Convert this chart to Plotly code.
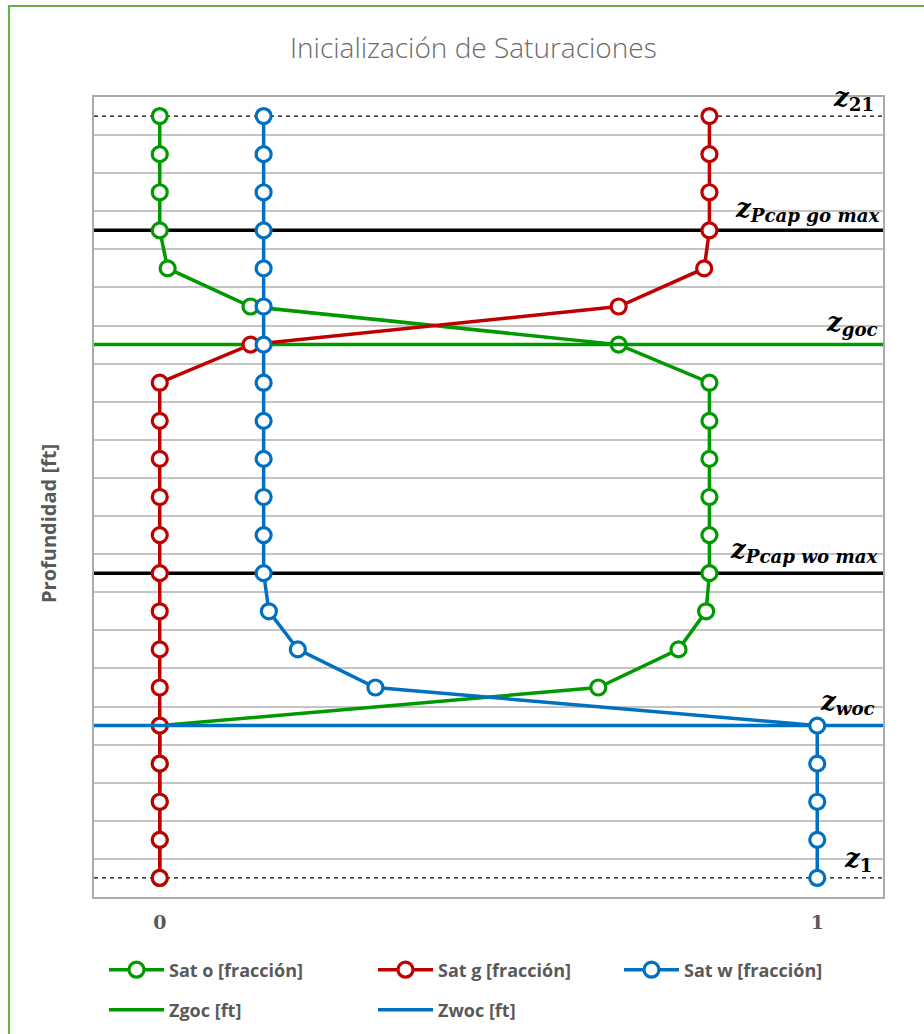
import plotly.graph_objects as go

# Depth levels (cell index, z1 at the bottom, z21 at the top)
z_levels = list(range(21, 0, -1))

# Saturations at each level, listed from z21 down to z1
sat_o = [0, 0, 0, 0, 0.012, 0.138, 0.698, 0.836, 0.836, 0.836, 0.836, 0.836, 0.836,
         0.831, 0.789, 0.667, 0, 0, 0, 0, 0]
sat_g = [0.836, 0.836, 0.836, 0.836, 0.828, 0.698, 0.138, 0, 0, 0, 0, 0, 0,
         0, 0, 0, 0, 0, 0, 0, 0]
sat_w = [0.158, 0.158, 0.158, 0.158, 0.158, 0.158, 0.158, 0.158, 0.158, 0.158, 0.158,
         0.158, 0.158, 0.166, 0.210, 0.328, 1.0, 1.0, 1.0, 1.0, 1.0]

# Reference depths (level index)
z_top, z_bottom = 21, 1
z_pcap_go_max = 18
z_goc = 15
z_pcap_wo_max = 9
z_woc = 5

x_range = [-0.1, 1.1]
x_ticks = [0, 1]
x_ticklabels = ["0", "1"]

GREEN = "#009A00"
RED = "#C00000"
BLUE = "#0070C0"
GRAY_TXT = "#595959"

fig = go.Figure()


def hline(y, color, width, dash="solid", name=None, legend=None, rank=None):
    fig.add_trace(go.Scatter(
        x=x_range, y=[y, y], mode="lines",
        line=dict(color=color, width=width, dash=dash),
        name=name, showlegend=name is not None,
        legend=legend, legendrank=rank if rank else 1000,
        hoverinfo="skip", cliponaxis=False,
    ))


def series(vals, color, name, legend, rank):
    fig.add_trace(go.Scatter(
        x=vals, y=z_levels, mode="lines+markers", name=name,
        line=dict(color=color, width=3.5),
        marker=dict(symbol="circle", size=15, color="white",
                    line=dict(color=color, width=3.2)),
        legend=legend, legendrank=rank, cliponaxis=False,
    ))


hline(z_top, "black", 1.2, dash="4px,4px")
hline(z_bottom, "black", 1.2, dash="4px,4px")
hline(z_pcap_go_max, "black", 3.5)
hline(z_pcap_wo_max, "black", 3.5)

series(sat_o, GREEN, "Sat o [fracción]", "legend", 1)
hline(z_goc, GREEN, 3.5, name="Zgoc [ft]", legend="legend4", rank=4)
series(sat_g, RED, "Sat g [fracción]", "legend2", 2)
hline(z_woc, BLUE, 3.5, name="Zwoc [ft]", legend="legend5", rank=5)
series(sat_w, BLUE, "Sat w [fracción]", "legend3", 3)

# Plot area geometry (pixels)
W, H = 924, 1034
L, R, T, B = 94, 883, 97, 897
PW, PH = R - L, B - T


def px_x(x):
    return (x - L) / PW


def px_y(y):
    return 1 - (y - T) / PH


legend_font = dict(family="Open Sans", size=18, color=GRAY_TXT, weight="bold")


def legend_at(x_px, y_px):
    # container coordinates keep the legends from resizing the plot area
    return dict(x=x_px / W, y=1 - y_px / H, xref="container", yref="container",
                xanchor="left", yanchor="middle",
                orientation="h", font=legend_font, bgcolor="rgba(0,0,0,0)",
                itemwidth=55)


# Depth labels next to the reference lines
z_font = dict(family="DejaVu Serif", size=26, color="black")
labels = [
    (z_top, "<b><i>z</i></b><sub><b>21</b></sub>", -7, -1),
    (z_pcap_go_max, "<b><i>z</i></b><sub><b><i>Pcap go max</i></b></sub>", 0, 2),
    (z_goc, "<b><i>z</i></b><sub><b><i>goc</i></b></sub>", -3, 3),
    (z_pcap_wo_max, "<b><i>z</i></b><sub><b><i>Pcap wo max</i></b></sub>", -3, 4),
    (z_woc, "<b><i>z</i></b><sub><b><i>woc</i></b></sub>", -6, 5),
    (z_bottom, "<b><i>z</i></b><sub><b>1</b></sub>", -9, 0),
]
annotations = [
    dict(x=1, xref="paper", y=yv, yref="y", text=txt, showarrow=False,
         xanchor="right", yanchor="bottom", xshift=xs, yshift=ys, font=z_font)
    for yv, txt, xs, ys in labels
]
annotations.append(dict(
    x=px_x(473), xref="paper", y=px_y(47), yref="paper",
    text="Inicialización de Saturaciones", showarrow=False,
    xanchor="center", yanchor="middle",
    font=dict(family="Open Sans", size=28, color="#6b6b6b", weight=300)))
annotations.append(dict(
    x=px_x(48), xref="paper", y=px_y(524), yref="paper",
    text="Profundidad [ft]", showarrow=False, textangle=-90,
    xanchor="center", yanchor="middle",
    font=dict(family="Open Sans", size=20, color=GRAY_TXT, weight="bold")))

# Chart frame (left and top edges)
FRAME = "#6AAE4A"
shapes = [
    dict(type="line", xref="paper", yref="paper", x0=px_x(9), x1=px_x(9),
         y0=px_y(5), y1=px_y(1040), line=dict(color=FRAME, width=2.2)),
    dict(type="line", xref="paper", yref="paper", x0=px_x(8), x1=px_x(940),
         y0=px_y(6), y1=px_y(6), line=dict(color=FRAME, width=2.2)),
]

fig.update_layout(
    width=W, height=H,
    margin=dict(l=L, r=W - R, t=T, b=H - B, autoexpand=False),
    paper_bgcolor="white", plot_bgcolor="white",
    annotations=annotations, shapes=shapes,
    legend=legend_at(104, 970),
    legend2=legend_at(373, 970),
    legend3=legend_at(619, 970),
    legend4=legend_at(104, 1010),
    legend5=legend_at(373, 1010),
    xaxis=dict(range=x_range, tickvals=x_ticks, ticktext=x_ticklabels,
               showgrid=False, zeroline=False, showline=True, mirror=True,
               linecolor="#ABABAB", linewidth=1.5, ticks="",
               ticklabelstandoff=7,
               tickfont=dict(family="DejaVu Serif", size=19, color=GRAY_TXT,
                             weight="bold")),
    yaxis=dict(range=[0.5, 21.5], tick0=0.5, dtick=1, showticklabels=False,
               showgrid=True, gridcolor="#C4C4C4", gridwidth=1.5,
               zeroline=False, showline=True, mirror=True,
               linecolor="#ABABAB", linewidth=1.5, ticks=""),
    hovermode=False,
)

fig.write_html("out.html")
